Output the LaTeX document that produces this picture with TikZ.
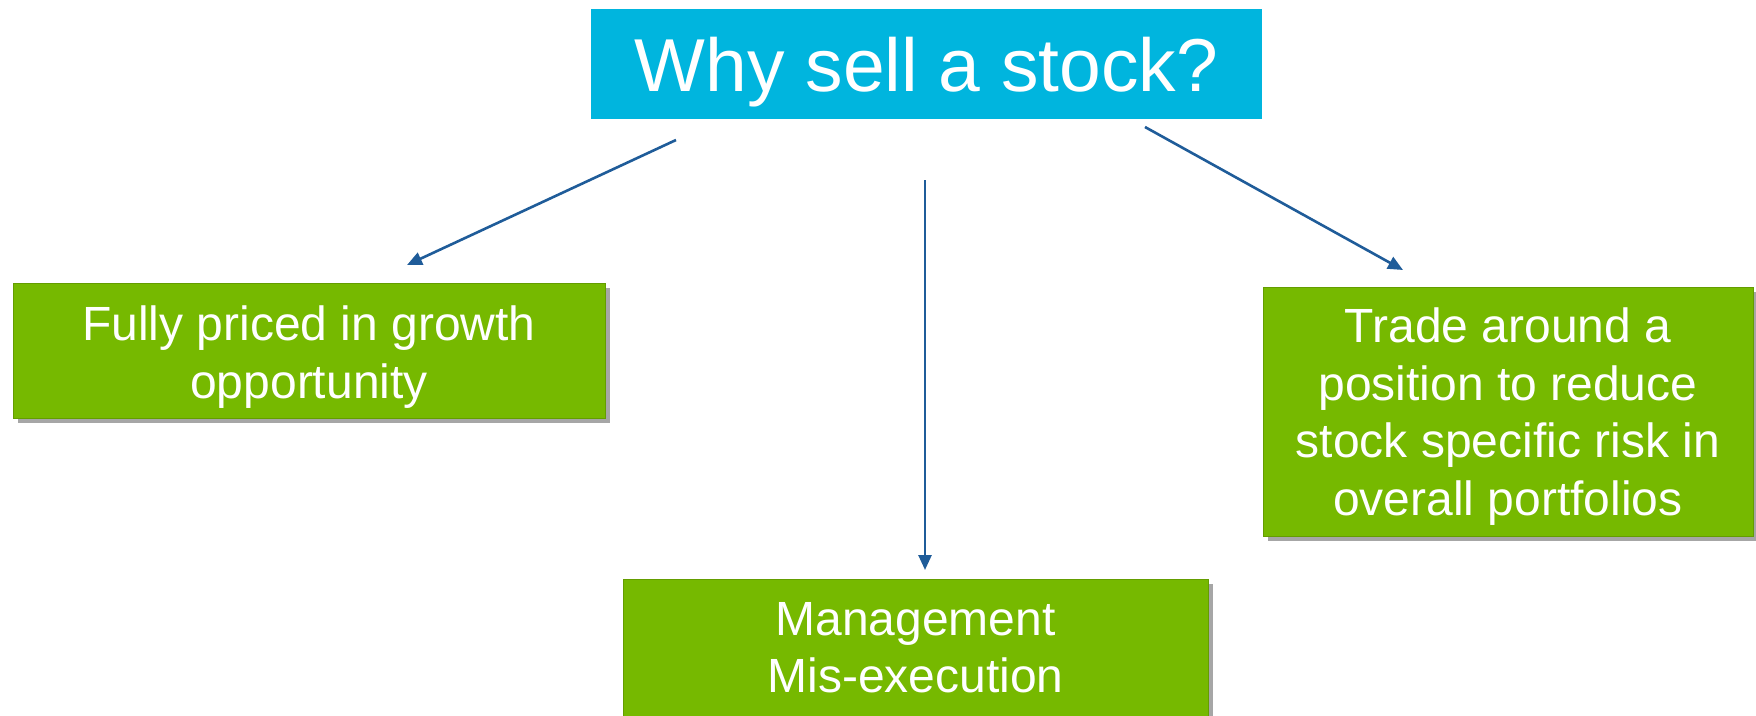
\documentclass[tikz,border=0pt]{standalone}
\usepackage{fontspec}
\setmainfont{Liberation Sans}
\usetikzlibrary{arrows.meta,shadows}
\definecolor{titlecyan}{HTML}{00B5DE}
\definecolor{boxgreen}{HTML}{76B900}
\definecolor{arrowblue}{HTML}{1F5C99}

\begin{document}
\begin{tikzpicture}[x=1pt,y=-1pt,
    reason/.style={draw=boxgreen!85!black, line width=0.8pt, fill=boxgreen, text=white, align=center,
      font=\fontsize{48}{57.5}\selectfont, inner sep=0pt, text depth=0pt,
      drop shadow={shadow xshift=5pt, shadow yshift=-5pt, fill=black, opacity=0.35}},
    link/.style={arrowblue, line width=2.6pt, -{Triangle[length=15pt,width=13pt]}}]
      \useasboundingbox (0,0) rectangle (1756,715);
\node [fill=titlecyan, text=white, minimum width=671pt, minimum height=110pt, inner sep=0pt,
  text height=54pt, text depth=0pt, font=\fontsize{75}{90}\selectfont] (title) at (926.5,64) {Why sell a stock?};
\node [reason, minimum width=592pt, minimum height=135pt, text height=95pt] (growth) at (309,350.5)
  {Fully priced in growth\\opportunity};
\node [reason, minimum width=490pt, minimum height=249pt, text height=207pt] (trade) at (1508,411.5)
  {Trade around a\\position to reduce\\stock specific risk in\\overall portfolios};
\node [reason, minimum width=585pt, minimum height=138pt, text height=89pt] (mgmt) at (915.5,648)
  {Management\\Mis-execution};
% arrows float between the boxes
\coordinate (growthfrom) at (676,140);
\coordinate (growthto) at (407,265);
\coordinate (mgmtfrom) at (925,180);
\coordinate (mgmtto) at (925,570);
\coordinate (tradefrom) at (1145,127);
\coordinate (tradeto) at (1403,270);
      \foreach \From/\To in {growthfrom/growthto, mgmtfrom/mgmtto, tradefrom/tradeto}
\draw [link] (\From) -- (\To);
    \end{tikzpicture}
\end{document}
